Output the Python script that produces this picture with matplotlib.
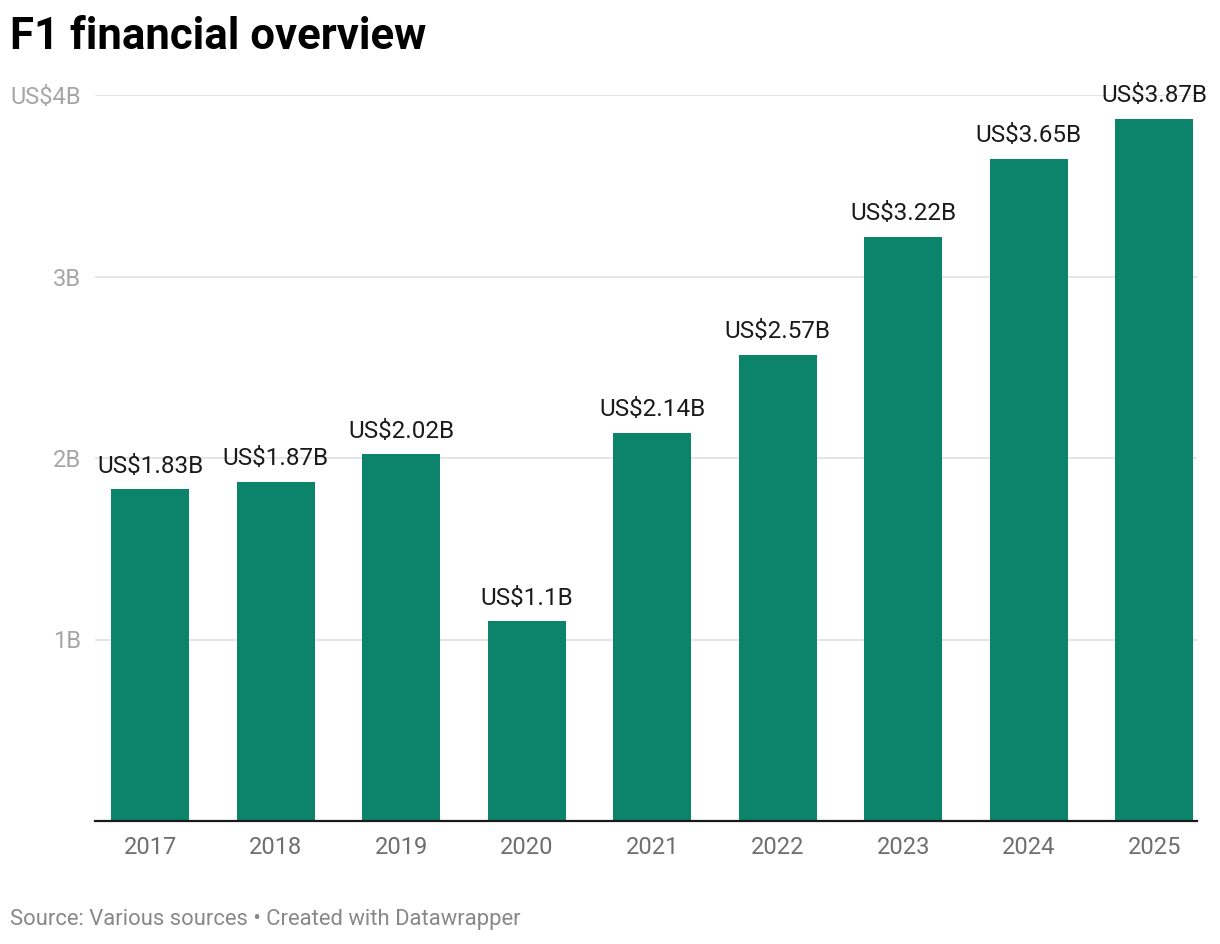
import matplotlib
matplotlib.use("Agg")
import matplotlib.pyplot as plt

plt.rcParams['font.family'] = ['Roboto', 'DejaVu Sans']

years = ['2017', '2018', '2019', '2020', '2021', '2022', '2023', '2024', '2025']
revenue = [1.83, 1.87, 2.02, 1.1, 2.14, 2.57, 3.22, 3.65, 3.87]
labels = ['US$1.83B', 'US$1.87B', 'US$2.02B', 'US$1.1B', 'US$2.14B',
          'US$2.57B', 'US$3.22B', 'US$3.65B', 'US$3.87B']
y_ticks = [1, 2, 3, 4]
y_tick_labels = ['1B', '2B', '3B', 'US$4B']

bar_color = '#0b846b'

fig = plt.figure(figsize=(12.2, 9.44), dpi=100)
ax = fig.add_axes([95 / 1220, 1 - 821 / 944, (1197 - 95) / 1220, (821 - 95) / 944])

x = list(range(len(years)))
bars = ax.bar(x, revenue, width=0.62, color=bar_color, zorder=2)

for xi, v, lab in zip(x, revenue, labels):
    ax.annotate(lab, (xi, v), xytext=(0, 8), textcoords='offset points',
                ha='center', va='bottom', fontsize=17.5, color='#1a1a1a',
                annotation_clip=False)

ax.set_xlim(-0.44, 8.34)
ax.set_ylim(0, 4)

ax.set_yticks(y_ticks)
ax.set_yticklabels(y_tick_labels)
ax.yaxis.grid(True, color='#e0e0e0', linewidth=1.2, zorder=0)
ax.set_axisbelow(True)
ax.tick_params(axis='y', length=0, pad=10, labelsize=17, labelcolor='#a6a6a6')

ax.set_xticks(x)
ax.set_xticklabels(years)
ax.tick_params(axis='x', length=0, pad=11, labelsize=17, labelcolor='#6e6e6e')

for side in ['top', 'right', 'left']:
    ax.spines[side].set_visible(False)
ax.spines['bottom'].set_color('#1a1a1a')
ax.spines['bottom'].set_linewidth(1.6)
ax.spines['bottom'].set_zorder(3)

fig.text(10 / 1220, 1 - 37 / 944, 'F1 financial overview', fontsize=31.5,
         fontweight='bold', ha='left', va='center', color='#000000')
fig.text(10 / 1220, 1 - 920 / 944, 'Source: Various sources \u2022 Created with Datawrapper',
         fontsize=15.8, ha='left', va='center', color='#888888')

fig.savefig('out.png', dpi=100)
